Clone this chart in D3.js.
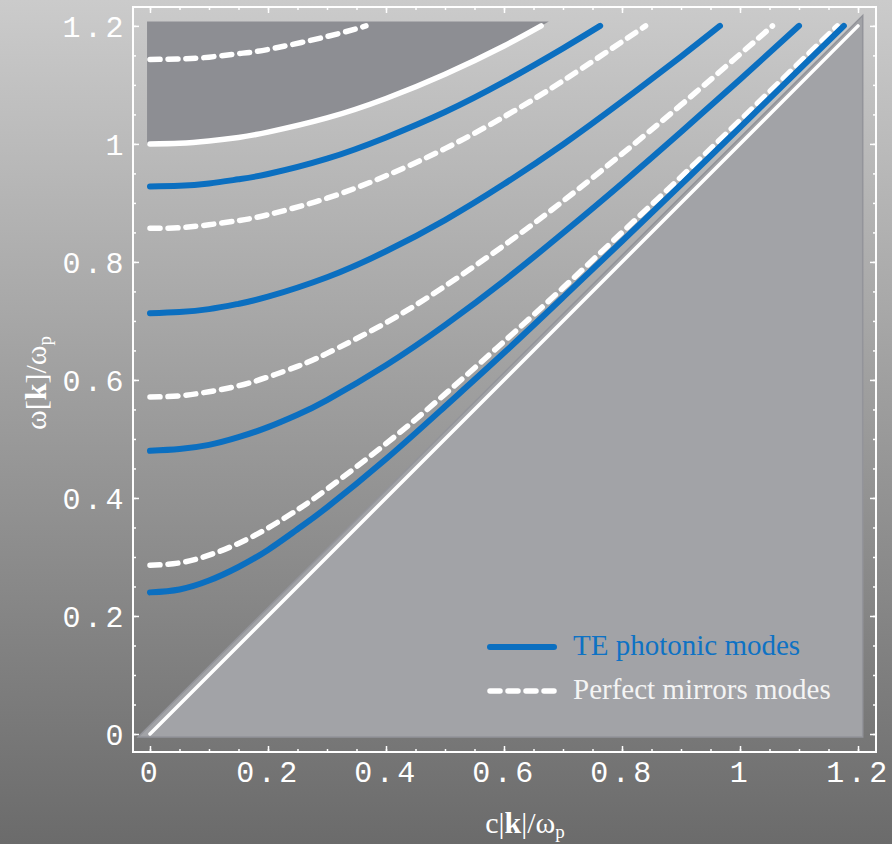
<!DOCTYPE html>
<html>
<head>
<meta charset="utf-8">
<script src="https://cdn.jsdelivr.net/npm/d3@7"></script>
<style>
  html, body { margin: 0; padding: 0; background: #9a9a9a; }
  svg { display: block; }
  .tick-label { font-family: "Liberation Mono", monospace; font-size: 30px; fill: #ffffff; letter-spacing: 3.5px; }
  .ax-title { font-family: "Liberation Serif", serif; font-size: 30px; fill: #ffffff; }
  .legend-text { font-family: "Liberation Serif", serif; font-size: 29px; }
</style>
</head>
<body>
<div id="chart"></div>
<script>
// ---- data: [c|k|/wp, w/wp] ----
const xTicks = [0, 0.2, 0.4, 0.6, 0.8, 1, 1.2];
const yTicks = [0, 0.2, 0.4, 0.6, 0.8, 1, 1.2];
const minorTicks = [0, 0.05, 0.1, 0.15, 0.2, 0.25, 0.3, 0.35, 0.4, 0.45, 0.5, 0.55, 0.6,
                    0.65, 0.7, 0.75, 0.8, 0.85, 0.9, 0.95, 1, 1.05, 1.1, 1.15, 1.2];

// TE photonic modes (blue, solid)
const teModes = [
  [[0, 0.928], [0.05, 0.929], [0.1, 0.933], [0.15, 0.94], [0.2, 0.949], [0.3, 0.975], [0.4, 1.011], [0.5, 1.054], [0.6, 1.105], [0.7, 1.162], [0.763, 1.2]],
  [[0, 0.713], [0.05, 0.715], [0.1, 0.72], [0.15, 0.729], [0.2, 0.741], [0.3, 0.774], [0.4, 0.818], [0.5, 0.871], [0.6, 0.932], [0.7, 0.999], [0.8, 1.072], [0.9, 1.148], [0.966, 1.2]],
  [[0, 0.48], [0.05, 0.483], [0.1, 0.49], [0.15, 0.503], [0.2, 0.52], [0.25, 0.541], [0.3, 0.566], [0.4, 0.625], [0.5, 0.693], [0.6, 0.768], [0.7, 0.849], [0.8, 0.933], [0.9, 1.02], [1.0, 1.109], [1.1, 1.2]],
  [[0, 0.24], [0.05, 0.245], [0.1, 0.26], [0.15, 0.283], [0.2, 0.312], [0.25, 0.347], [0.3, 0.384], [0.4, 0.466], [0.5, 0.555], [0.6, 0.646], [0.7, 0.74], [0.8, 0.835], [0.9, 0.931], [1.0, 1.028], [1.1, 1.126], [1.176, 1.2]]
];

// Perfect mirrors modes (white, dashed)
const mirrorModes = [
  [[0, 1.143], [0.05, 1.144], [0.1, 1.147], [0.15, 1.153], [0.2, 1.16], [0.3, 1.182], [0.366, 1.2]],
  [[0, 0.857], [0.05, 0.858], [0.1, 0.863], [0.15, 0.87], [0.2, 0.88], [0.3, 0.908], [0.4, 0.946], [0.5, 0.992], [0.6, 1.046], [0.7, 1.107], [0.84, 1.2]],
  [[0, 0.571], [0.05, 0.573], [0.1, 0.58], [0.15, 0.59], [0.2, 0.605], [0.25, 0.623], [0.3, 0.645], [0.4, 0.697], [0.5, 0.759], [0.6, 0.828], [0.7, 0.903], [0.8, 0.983], [0.9, 1.066], [1.0, 1.152], [1.055, 1.2]],
  [[0, 0.286], [0.05, 0.29], [0.1, 0.303], [0.15, 0.323], [0.2, 0.349], [0.25, 0.38], [0.3, 0.415], [0.4, 0.492], [0.5, 0.576], [0.6, 0.665], [0.7, 0.756], [0.8, 0.85], [0.9, 0.944], [1.0, 1.04], [1.1, 1.137], [1.165, 1.2]]
];

// plasma line and light line (white, solid)
const plasmaLine = [[0, 1], [0.05, 1.001], [0.1, 1.005], [0.15, 1.011], [0.2, 1.02], [0.3, 1.044], [0.4, 1.077], [0.5, 1.118], [0.6, 1.166], [0.663, 1.2]];
const lightLine = [[0, 0], [1.2, 1.2]];

// shaded regions
const darkRegion = [[-0.005, 1.2075], [-0.005, 1], [0, 1], [0.05, 1.001], [0.1, 1.005], [0.15, 1.011], [0.2, 1.02], [0.3, 1.044], [0.4, 1.077],
                    [0.5, 1.118], [0.6, 1.166], [0.663, 1.2], [0.676, 1.2075]];
const lightCone = [[-0.02, -0.005], [1.208, -0.005], [1.208, 1.2175]];

const legendItems = ["TE photonic modes", "Perfect mirrors modes"];

// ---- layout ----
const W = 892, H = 844;
const frame = { left: 133, right: 876, top: 7, bottom: 752 };
const blue = "#0b6fc0";

const svg = d3.select("#chart").append("svg")
  .attr("width", W)
  .attr("height", H);

const defs = svg.append("defs");
const grad = defs.append("linearGradient")
  .attr("id", "bg")
  .attr("x1", 0).attr("y1", 0).attr("x2", 0).attr("y2", 1);
grad.append("stop").attr("offset", "0%").attr("stop-color", "#cbcbcb");
grad.append("stop").attr("offset", "100%").attr("stop-color", "#6b6b6b");

svg.append("rect")
  .attr("width", W).attr("height", H)
  .attr("fill", "url(#bg)");

const x = d3.scaleLinear().domain([-0.0288, 1.2305]).range([frame.left, frame.right]);
const y = d3.scaleLinear().domain([-0.0305, 1.232]).range([frame.bottom, frame.top]);

const line = d3.line()
  .x(d => x(d[0]))
  .y(d => y(d[1]))
  .curve(d3.curveNatural);

const poly = d3.line()
  .x(d => x(d[0]))
  .y(d => y(d[1]))
  .curve(d3.curveLinearClosed);

// Regions
svg.append("path")
  .attr("d", poly(lightCone))
  .attr("fill", "#a2a3a7")
  .attr("stroke", "#93949a")
  .attr("stroke-width", 1.5);

svg.append("path")
  .attr("d", poly(darkRegion))
  .attr("fill", "#8d8e93");

// Light line and plasma line
svg.append("path")
  .attr("d", line(lightLine))
  .attr("fill", "none")
  .attr("stroke", "#ffffff")
  .attr("stroke-width", 3.5)
  .attr("stroke-linecap", "round");

svg.append("path")
  .attr("d", line(plasmaLine))
  .attr("fill", "none")
  .attr("stroke", "#ffffff")
  .attr("stroke-width", 5.5)
  .attr("stroke-linecap", "round");

// Mirror modes (dashed)
svg.selectAll(".mirror")
  .data(mirrorModes)
  .enter()
  .append("path")
  .attr("class", "mirror")
  .attr("d", d => line(d))
  .attr("fill", "none")
  .attr("stroke", "#ffffff")
  .attr("stroke-width", 5.5)
  .attr("stroke-linecap", "round")
  .attr("stroke-dasharray", "10 8");

// TE modes (blue)
svg.selectAll(".te")
  .data(teModes)
  .enter()
  .append("path")
  .attr("class", "te")
  .attr("d", d => line(d))
  .attr("fill", "none")
  .attr("stroke", blue)
  .attr("stroke-width", 6)
  .attr("stroke-linecap", "round");

// Frame
svg.append("rect")
  .attr("x", frame.left).attr("y", frame.top)
  .attr("width", frame.right - frame.left)
  .attr("height", frame.bottom - frame.top)
  .attr("fill", "none")
  .attr("stroke", "#ffffff")
  .attr("stroke-width", 2);

const fmt = d3.format("~g");

function styleAxis(g) {
  g.select(".domain").remove();
  g.selectAll(".tick line").attr("stroke", "#ffffff").attr("stroke-width", 1.5);
}

// minor ticks on all four sides
svg.append("g")
  .attr("transform", `translate(0,${frame.bottom})`)
  .call(d3.axisBottom(x).tickValues(minorTicks).tickSize(-3).tickFormat(""))
  .call(styleAxis);
svg.append("g")
  .attr("transform", `translate(0,${frame.top})`)
  .call(d3.axisTop(x).tickValues(minorTicks).tickSize(-3).tickFormat(""))
  .call(styleAxis);
svg.append("g")
  .attr("transform", `translate(${frame.left},0)`)
  .call(d3.axisLeft(y).tickValues(minorTicks).tickSize(-3).tickFormat(""))
  .call(styleAxis);
svg.append("g")
  .attr("transform", `translate(${frame.right},0)`)
  .call(d3.axisRight(y).tickValues(minorTicks).tickSize(-3).tickFormat(""))
  .call(styleAxis);

// major ticks
const xAxis = svg.append("g")
  .attr("transform", `translate(0,${frame.bottom})`)
  .call(d3.axisBottom(x).tickValues(xTicks).tickSize(-6).tickFormat(fmt))
  .call(styleAxis);
xAxis.selectAll("text")
  .attr("class", "tick-label")
  .attr("y", 30).attr("dy", 0).attr("dx", 0)
  .attr("font-family", null).attr("font-size", null).attr("fill", null);

const yAxis = svg.append("g")
  .attr("transform", `translate(${frame.left},0)`)
  .call(d3.axisLeft(y).tickValues(yTicks).tickSize(-6).tickFormat(fmt))
  .call(styleAxis);
yAxis.selectAll("text")
  .attr("class", "tick-label")
  .attr("x", -6).attr("dy", "0.36em")
  .attr("font-family", null).attr("font-size", null).attr("fill", null);

svg.append("g")
  .attr("transform", `translate(0,${frame.top})`)
  .call(d3.axisTop(x).tickValues(xTicks).tickSize(-6).tickFormat(""))
  .call(styleAxis);
svg.append("g")
  .attr("transform", `translate(${frame.right},0)`)
  .call(d3.axisRight(y).tickValues(yTicks).tickSize(-6).tickFormat(""))
  .call(styleAxis);

// Axis titles
const xt = svg.append("text")
  .attr("class", "ax-title")
  .attr("x", 525).attr("y", 833)
  .attr("text-anchor", "middle");
xt.append("tspan").text("c|");
xt.append("tspan").attr("font-weight", "bold").text("k");
xt.append("tspan").text("|/ω");
xt.append("tspan").attr("font-size", "19px").attr("dy", 5).text("p");

const yt = svg.append("text")
  .attr("class", "ax-title")
  .attr("transform", "translate(46,383) rotate(-90)")
  .attr("text-anchor", "middle");
yt.append("tspan").text("ω[");
yt.append("tspan").attr("font-weight", "bold").text("k");
yt.append("tspan").text("]/ω");
yt.append("tspan").attr("font-size", "19px").attr("dy", 5).text("p");

// Legend
const legend = svg.append("g").attr("transform", "translate(490,647)");
legend.append("line")
  .attr("x1", 0).attr("x2", 64).attr("y1", 0).attr("y2", 0)
  .attr("stroke", blue).attr("stroke-width", 6).attr("stroke-linecap", "round");
legend.append("text")
  .attr("class", "legend-text")
  .attr("x", 83).attr("y", 8)
  .attr("fill", "#0e72c4")
  .text(legendItems[0]);

legend.append("line")
  .attr("x1", 0).attr("x2", 66).attr("y1", 44).attr("y2", 44)
  .attr("stroke", "#ffffff").attr("stroke-width", 5.5).attr("stroke-linecap", "round")
  .attr("stroke-dasharray", "10 8");
legend.append("text")
  .attr("class", "legend-text")
  .attr("x", 83).attr("y", 52)
  .attr("fill", "#f4f4f4")
  .text(legendItems[1]);
</script>
</body>
</html>
